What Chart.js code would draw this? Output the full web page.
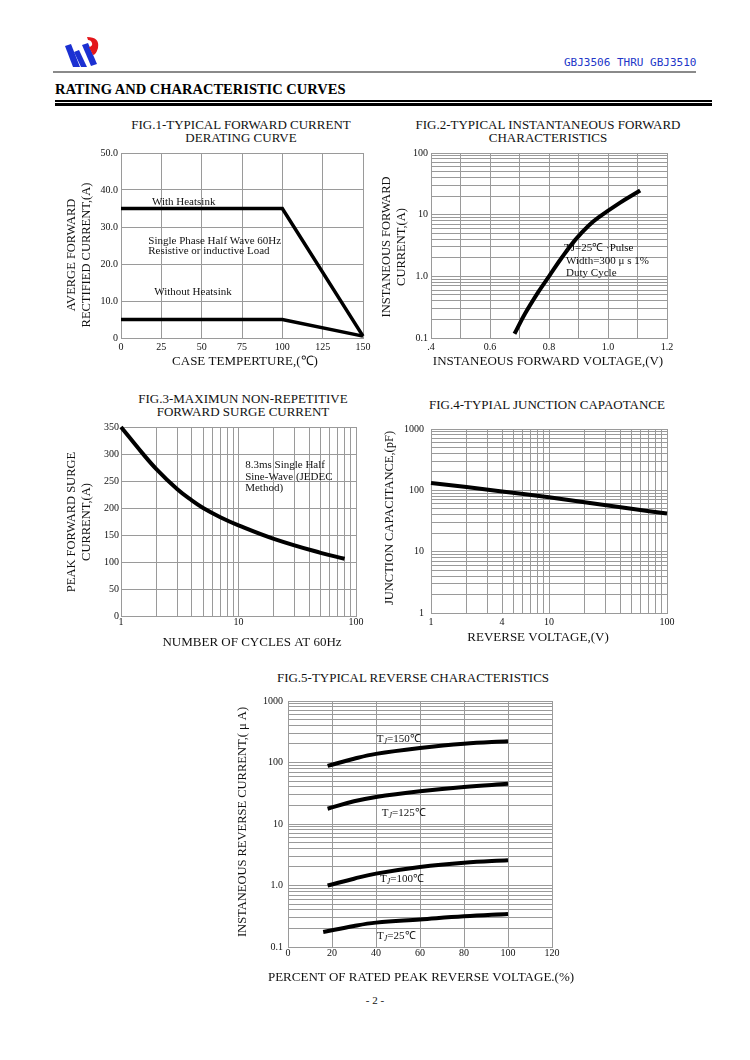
<!DOCTYPE html>
<html>
<head>
<meta charset="utf-8">
<script src="https://cdn.jsdelivr.net/npm/chart.js@4.4.1/dist/chart.umd.min.js"></script>
<style>
  html, body { margin: 0; padding: 0; background: #fff; }
  #page { position: relative; width: 750px; height: 1060px; overflow: hidden; background: #fff;
          font-family: "Liberation Serif", "Times New Roman", serif; color: #111; }
  .abs { position: absolute; }
  canvas.fig { position: absolute; }
  .figtitle { position: absolute; width: 400px; text-align: center; font-size: 13px; line-height: 13px; white-space: nowrap; }
</style>
</head>
<body>
<div id="page">
  <!-- logo -->
  <svg class="abs" style="left:60px;top:34px" width="45" height="36" viewBox="60 34 45 36">
    <polygon points="65,46 71,44 80,67 73,67" fill="#1b30d2"/>
    <polygon points="74,52 79,50 87,67 81,67" fill="#1b30d2"/>
    <polygon points="82,45 88,43 97,64 91,66" fill="#1b30d2"/>
    <path d="M87,37 Q100,37 98,48 Q96,55 93,55 L89,47 Q93,46 92,43 Q91,40 88,40 Z" fill="#e3161b"/>
  </svg>
  <div class="abs" style="left:564px;top:56px;font-family:'DejaVu Sans Mono',monospace;font-size:11px;color:#2236c8;">GBJ3506 THRU GBJ3510</div>
  <div class="abs" style="left:53px;top:71px;width:643px;height:1.5px;background:#8a8a8a;"></div>
  <div class="abs" style="left:55px;top:81px;font-size:14.5px;font-weight:bold;color:#000;">RATING AND CHARACTERISTIC CURVES</div>
  <div class="abs" style="left:55px;top:100px;width:657px;height:1.5px;background:#000;"></div>
  <div class="abs" style="left:55px;top:103px;width:657px;height:3px;background:#000;"></div>

  <div class="figtitle" style="left:41px;top:117.5px;">FIG.1-TYPICAL FORWARD CURRENT<br>DERATING CURVE</div>
  <div class="figtitle" style="left:348px;top:117.5px;">FIG.2-TYPICAL INSTANTANEOUS FORWARD<br>CHARACTERISTICS</div>
  <div class="figtitle" style="left:43px;top:391.5px;">FIG.3-MAXIMUN NON-REPETITIVE<br>FORWARD SURGE CURRENT</div>
  <div class="figtitle" style="left:347px;top:397.5px;">FIG.4-TYPIAL JUNCTION CAPAOTANCE</div>
  <div class="figtitle" style="left:213px;top:670.5px;">FIG.5-TYPICAL REVERSE CHARACTERISTICS</div>

  <canvas class="fig" id="fig1"></canvas>
  <canvas class="fig" id="fig2"></canvas>
  <canvas class="fig" id="fig3"></canvas>
  <canvas class="fig" id="fig4"></canvas>
  <canvas class="fig" id="fig5"></canvas>

  <div class="abs" style="left:325px;top:994px;width:100px;text-align:center;font-size:11px;">- 2 -</div>
</div>

<script>
// ---- data ----

// FIG.1 derating
const fig1Temp = [0, 100, 150];
const fig1WithSink = [35, 35, 0.5];
const fig1NoSink = [5, 5, 0.5];
const fig1XTicks = [0, 25, 50, 75, 100, 125, 150];
const fig1XLabels = ['0', '25', '50', '75', '100', '125', '150'];
const fig1YTicks = [0, 10, 20, 30, 40, 50];
const fig1YLabels = ['0', '10.0', '20.0', '30.0', '40.0', '50.0'];

// FIG.2 forward characteristics
const fig2Volt = [0.683, 0.719, 0.764, 0.80, 0.843, 0.889, 0.934, 0.968, 1.04, 1.109];
const fig2Amp = [0.117, 0.249, 0.56, 1.0, 2.0, 3.9, 6.6, 9.0, 15.5, 24.6];
const fig2XTicks = [0.4, 0.6, 0.8, 1.0, 1.2];
const fig2XLabels = ['.4', '0.6', '0.8', '1.0', '1.2'];
const fig2YTicks = [0.1, 1, 10, 100];
const fig2YLabels = ['0.1', '1.0', '10', '100'];

// FIG.3 surge current
const fig3Cycles = [1, 1.5, 2, 3, 4, 5, 7, 10, 20, 50, 80];
const fig3Amp = [350, 303, 272, 235, 214, 200, 183, 168, 143, 117, 106];
const fig3XTicks = [1, 10, 100];
const fig3XLabels = ['1', '10', '100'];
const fig3YTicks = [0, 50, 100, 150, 200, 250, 300, 350];
const fig3YLabels = ['0', '50', '100', '150', '200', '250', '300', '350'];

// FIG.4 junction capacitance
const fig4Volt = [1, 2, 4, 10, 20, 50, 100];
const fig4Cap = [132, 113, 96, 77, 64, 50, 42];
const fig4XTicks = [1, 4, 10, 100];
const fig4XLabels = ['1', '4', '10', '100'];
const fig4YTicks = [1, 10, 100, 1000];
const fig4YLabels = ['1', '10', '100', '1000'];

// FIG.5 reverse characteristics
const fig5Pct = [18, 30, 40, 60, 80, 100];
const fig5Pct25 = [16, 30, 40, 60, 80, 100];
const fig5T150 = [88, 115, 138, 172, 202, 221];
const fig5T125 = [17.7, 23.4, 27.5, 34, 40, 45];
const fig5T100 = [1.0, 1.29, 1.56, 2.0, 2.35, 2.57];
const fig5T25 = [0.175, 0.22, 0.249, 0.28, 0.315, 0.344];
const fig5XTicks = [0, 20, 40, 60, 80, 100, 120];
const fig5XLabels = ['0', '20', '40', '60', '80', '100', '120'];
const fig5YTicks = [0.1, 1, 10, 100, 1000];
const fig5YLabels = ['0.1', '1.0', '10', '100', '1000'];

// ---- drawing ----
const SERIF = '"Liberation Serif", "Times New Roman", serif';
const GRID = '#9a9a9a';
const INK = '#111';

// grid lines at 1..9 of every decade
function logGrid(min, max) {
  const vals = [];
  for (let d = min; d < max * 0.999; d = Number((d * 10).toPrecision(3))) {
    for (let m = 1; m < 10; m++) vals.push(Number((m * d).toPrecision(3)));
  }
  vals.push(max);
  return vals;
}
function stepGrid(min, max, step) {
  const vals = [];
  for (let i = 0; min + i * step <= max + 1e-9; i++) vals.push(Number((min + i * step).toFixed(4)));
  return vals;
}
const pairs = (xs, ys) => xs.map((x, i) => ({ x: x, y: ys[i] }));

function axis(type, min, max, gridVals, tickVals, tickText, pad) {
  return {
    type: type, min: min, max: max,
    afterBuildTicks: s => { s.ticks = gridVals.map(v => ({ value: v })); },
    grid: { color: GRID, lineWidth: 1, drawTicks: false },
    border: { color: GRID, width: 1 },
    ticks: {
      autoSkip: false, maxRotation: 0, minRotation: 0, padding: pad, color: INK,
      font: { size: 10, family: SERIF },
      callback: v => {
        const i = tickVals.findIndex(t => Math.abs(t - v) <= Math.abs(t) * 1e-6 + 1e-9);
        return i < 0 ? '' : tickText[i];
      }
    }
  };
}

function curve(points, width, smooth) {
  return {
    data: points, borderColor: '#000', borderWidth: width, pointRadius: 0, fill: false, clip: false,
    tension: smooth ? 0.4 : 0, borderCapStyle: 'butt'
  };
}

// axis titles and notes inside the plot
function textPlugin(lay, xTitle, yTitle, notes) {
  return {
    id: 'figtext',
    afterDatasetsDraw(chart) {
      const { ctx } = chart;
      const xs = chart.scales.x, ys = chart.scales.y;
      const bx = lay.box.x, by = lay.box.y;
      ctx.save();
      ctx.fillStyle = INK;
      ctx.textBaseline = 'middle';

      // notes, placed in data units
      ctx.textAlign = 'left';
      notes.forEach(n => {
        let px = xs.getPixelForValue(n.x);
        const py = ys.getPixelForValue(n.y);
        n.parts.forEach(p => {
          ctx.font = (p.sub ? 'italic 8px ' : '11px ') + SERIF;
          ctx.fillText(p.t, px, py + (p.sub ? 3 : 0));
          px += ctx.measureText(p.t).width;
        });
      });

      // axis titles
      ctx.textAlign = 'center';
      ctx.font = '13px ' + SERIF;
      ctx.fillText(xTitle, lay.xTitle[0] - bx, lay.xTitle[1] - by);
      ctx.font = '12.5px ' + SERIF;
      ctx.translate(lay.yTitle[0] - bx, lay.yTitle[1] - by);
      ctx.rotate(-Math.PI / 2);
      [].concat(yTitle).forEach((line, i) => ctx.fillText(line, 0, i * 14.5));
      ctx.restore();
    }
  };
}

function makeFigure(id, lay, xAxis, yAxis, xTitle, yTitle, datasets, notes) {
  const c = document.getElementById(id);
  const { box, plot } = lay;
  Object.assign(c.style, { left: box.x + 'px', top: box.y + 'px', width: box.w + 'px', height: box.h + 'px' });
  c.width = box.w; c.height = box.h;

  xAxis.afterFit = s => { s.height = box.y + box.h - plot.B; s.paddingLeft = 0; s.paddingRight = 0; };
  yAxis.afterFit = s => { s.width = plot.L - box.x; s.paddingTop = 0; s.paddingBottom = 0; };

  return new Chart(c, {
    type: 'line',
    data: { datasets: datasets },
    options: {
      responsive: false, animation: false, devicePixelRatio: 1, events: [],
      layout: { padding: { left: 0, top: plot.T - box.y, right: box.x + box.w - plot.R, bottom: 0 } },
      plugins: { legend: { display: false }, tooltip: { enabled: false } },
      scales: { x: xAxis, y: yAxis }
    },
    plugins: [textPlugin(lay, xTitle, yTitle, notes)]
  });
}

// FIG.1
makeFigure('fig1',
  { box: { x: 55, y: 143, w: 325, h: 230 }, plot: { L: 121, T: 153, R: 363, B: 338 }, yTitle: [72, 255], xTitle: [245, 362] },
  axis('linear', 0, 150, stepGrid(0, 150, 25), fig1XTicks, fig1XLabels, 3),
  axis('linear', 0, 50, stepGrid(0, 50, 10), fig1YTicks, fig1YLabels, 3),
  'CASE TEMPERTURE,(\u2103)', ['AVERGE FORWARD', 'RECTIFIED CURRENT,(A)'],
  [curve(pairs(fig1Temp, fig1WithSink), 3.5, false), curve(pairs(fig1Temp, fig1NoSink), 3.5, false)],
  [
    { x: 19.2, y: 36.8, parts: [{ t: 'With Heatsink' }] },
    { x: 16.9, y: 26.3, parts: [{ t: 'Single Phase Half Wave 60Hz' }] },
    { x: 16.9, y: 23.4, parts: [{ t: 'Resistive or inductive Load' }] },
    { x: 20.6, y: 12.3, parts: [{ t: 'Without Heatsink' }] }
  ]);

// FIG.2
makeFigure('fig2',
  { box: { x: 378, y: 143, w: 310, h: 230 }, plot: { L: 431, T: 153, R: 667, B: 338 }, yTitle: [387, 247], xTitle: [548, 362] },
  axis('linear', 0.4, 1.2, stepGrid(0.4, 1.2, 0.1), fig2XTicks, fig2XLabels, 3),
  axis('logarithmic', 0.1, 100, logGrid(0.1, 100), fig2YTicks, fig2YLabels, 3),
  'INSTANEOUS FORWARD VOLTAGE,(V)', ['INSTANEOUS FORWARD', 'CURRENT,(A)'],
  [curve(pairs(fig2Volt, fig2Amp), 4, true)],
  [
    { x: 0.851, y: 2.88, parts: [{ t: 'TJ=25\u2103 \u00b7Pulse' }] },
    { x: 0.858, y: 1.79, parts: [{ t: 'Width=300 \u03bc s 1%' }] },
    { x: 0.858, y: 1.13, parts: [{ t: 'Duty Cycle' }] }
  ]);

// FIG.3
makeFigure('fig3',
  { box: { x: 55, y: 418, w: 320, h: 240 }, plot: { L: 121, T: 427, R: 356, B: 616 }, yTitle: [72, 522], xTitle: [252, 643] },
  axis('logarithmic', 1, 100, logGrid(1, 100), fig3XTicks, fig3XLabels, 0),
  axis('linear', 0, 350, stepGrid(0, 350, 50), fig3YTicks, fig3YLabels, 2),
  'NUMBER OF CYCLES AT 60Hz', ['PEAK FORWARD SURGE', 'CURRENT,(A)'],
  [curve(pairs(fig3Cycles, fig3Amp), 4, true)],
  [
    { x: 11.4, y: 280, parts: [{ t: '8.3ms Single Half' }] },
    { x: 11.4, y: 258, parts: [{ t: 'Sine-Wave (JEDEC' }] },
    { x: 11.4, y: 237, parts: [{ t: 'Method)' }] }
  ]);

// FIG.4
makeFigure('fig4',
  { box: { x: 378, y: 418, w: 310, h: 240 }, plot: { L: 431, T: 429, R: 667, B: 613 }, yTitle: [390, 518], xTitle: [538, 638] },
  axis('logarithmic', 1, 100, logGrid(1, 100), fig4XTicks, fig4XLabels, 3),
  axis('logarithmic', 1, 1000, logGrid(1, 1000), fig4YTicks, fig4YLabels, 7),
  'REVERSE VOLTAGE,(V)', 'JUNCTION CAPACITANCE,(pF)',
  [curve(pairs(fig4Volt, fig4Cap), 4, true)],
  []);

// FIG.5
const tj = (rest) => [{ t: 'T' }, { t: 'J', sub: true }, { t: rest }];
makeFigure('fig5',
  { box: { x: 233, y: 690, w: 350, h: 300 }, plot: { L: 288, T: 701, R: 552, B: 947 }, yTitle: [243, 822], xTitle: [421, 978] },
  axis('linear', 0, 120, stepGrid(0, 120, 20), fig5XTicks, fig5XLabels, 0),
  axis('logarithmic', 0.1, 1000, logGrid(0.1, 1000), fig5YTicks, fig5YLabels, 5),
  'PERCENT OF RATED PEAK REVERSE VOLTAGE.(%)', 'INSTANEOUS REVERSE CURRENT,( \u03bc A)',
  [
    curve(pairs(fig5Pct, fig5T150), 4, true),
    curve(pairs(fig5Pct, fig5T125), 4, true),
    curve(pairs(fig5Pct, fig5T100), 4, true),
    curve(pairs(fig5Pct25, fig5T25), 4, true)
  ],
  [
    { x: 40.3, y: 238, parts: tj('=150\u2103') },
    { x: 42.6, y: 15.3, parts: tj('=125\u2103') },
    { x: 41.8, y: 1.29, parts: tj('=100\u2103') },
    { x: 40.5, y: 0.151, parts: tj('=25\u2103') }
  ]);
</script>
</body>
</html>
